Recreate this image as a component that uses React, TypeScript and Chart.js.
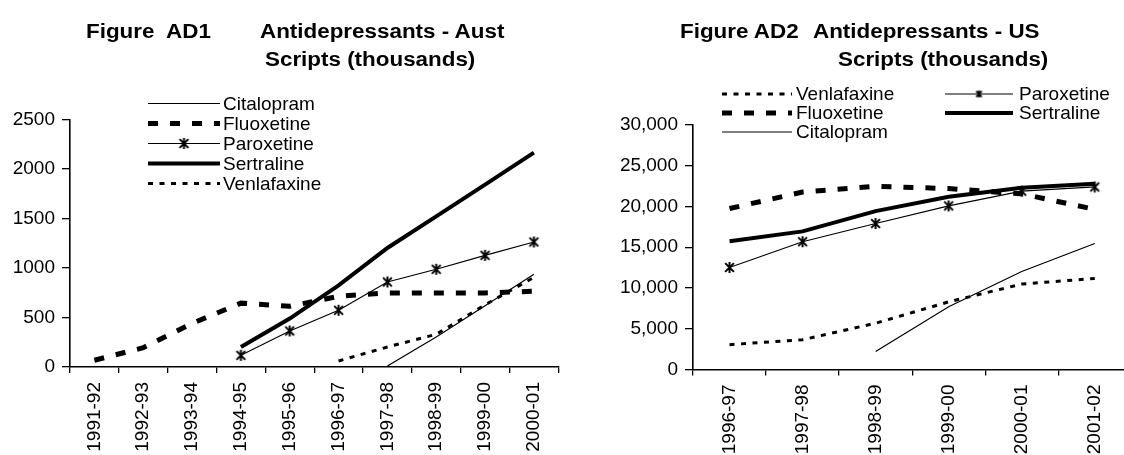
import React, { useEffect, useRef } from 'react';
import { Chart, registerables } from 'chart.js';

Chart.register(...registerables);

// ---------- Data ----------
const ausYears = ['1991-92', '1992-93', '1993-94', '1994-95', '1995-96', '1996-97', '1997-98', '1998-99', '1999-00', '2000-01'];
const ausCitalopram = [null, null, null, null, null, null, 10, 303, 618, 936];
const ausFluoxetine = [68, 195, 440, 645, 613, 714, 748, 748, 748, 765];
const ausParoxetine = [null, null, null, 118, 364, 573, 859, 987, 1128, 1263];
const ausSertraline = [null, null, null, 202, 489, 825, 1202, 1522, 1842, 2165];
const ausVenlafaxine = [null, null, null, null, null, 61, 202, 330, 628, 905];
const ausYTicks = [0, 500, 1000, 1500, 2000, 2500];

const usYears = ['1996-97', '1997-98', '1998-99', '1999-00', '2000-01', '2001-02'];
const usVenlafaxine = [3050, 3650, 5680, 8300, 10480, 11170];
const usFluoxetine = [19750, 21780, 22480, 22200, 21550, 19650];
const usCitalopram = [null, null, 2200, 7700, 12030, 15460];
const usParoxetine = [12520, 15680, 17910, 20070, 21880, 22400];
const usSertraline = [15730, 16950, 19430, 21200, 22310, 22800];
const usYTicks = [0, 5000, 10000, 15000, 20000, 25000, 30000];

const FONT = '"Liberation Sans", Arial, Helvetica, sans-serif';

function makeAsterisk(size: number, lw: number) {
  const c = document.createElement('canvas');
  c.width = size;
  c.height = size;
  const ctx = c.getContext('2d')!;
  ctx.strokeStyle = '#000';
  ctx.lineWidth = lw;
  const m = size / 2;
  const r = size / 2 - 1;
  const d = r * 0.8;
  ctx.beginPath();
  ctx.moveTo(m - d, m - d); ctx.lineTo(m + d, m + d);
  ctx.moveTo(m + d, m - d); ctx.lineTo(m - d, m + d);
  ctx.moveTo(m, m - r); ctx.lineTo(m, m + r);
  ctx.stroke();
  return c;
}

const legendPlugin = {
  id: 'customLegend',
  afterDraw(chart: any, _args: any, opts: any) {
    const ctx = chart.ctx;
    for (const it of opts.items || []) {
      const ds = chart.data.datasets[it.index];
      ctx.save();
      ctx.strokeStyle = '#000';
      ctx.lineWidth = ds.borderWidth;
      ctx.setLineDash(ds.borderDash || []);
      ctx.lineCap = 'butt';
      ctx.beginPath();
      ctx.moveTo(it.x0, it.y);
      ctx.lineTo(it.x1, it.y);
      ctx.stroke();
      ctx.setLineDash([]);
      if (it.marker) {
        const img = it.marker;
        ctx.drawImage(img, (it.x0 + it.x1) / 2 - img.width / 2, it.y - img.height / 2);
      }
      ctx.fillStyle = '#000';
      ctx.font = `${opts.fontSize}px ${FONT}`;
      ctx.textBaseline = 'middle';
      ctx.fillText(ds.label, it.textX, it.y + 1);
      ctx.restore();
    }
  },
};

function lineDs(label: string, data: (number | null)[], kind: string, marker?: any) {
  const base: any = {
    label,
    data,
    borderColor: '#000',
    backgroundColor: '#000',
    fill: false,
    tension: 0,
    pointRadius: 0,
    pointHoverRadius: 0,
    spanGaps: false,
  };
  if (kind === 'thin') { base.borderWidth = 1.2; }
  if (kind === 'dash') { base.borderWidth = 5; base.borderDash = [10, 12]; }
  if (kind === 'dot') { base.borderWidth = 3; base.borderDash = [5, 6.5]; }
  if (kind === 'thick') { base.borderWidth = 4; }
  if (kind === 'star') {
    base.borderWidth = 1.2;
    base.pointStyle = marker;
    base.pointRadius = 6;
    base.pointHoverRadius = 6;
  }
  return base;
}

function scales(labels: string[], yMax: number, step: number, yWidth: number, xHeight: number, fmt: (v: number) => string) {
  return {
    x: {
      type: 'category',
      labels,
      offset: true,
      grid: { display: true, drawOnChartArea: false, drawTicks: true, tickLength: 6, color: '#000', lineWidth: 1.3, offset: true },
      border: { display: true, color: '#000', width: 1.6 },
      ticks: { autoSkip: false, maxRotation: 90, minRotation: 90, color: '#000', font: { family: FONT, size: 19 }, padding: 9 },
      afterFit: (s: any) => { s.height = xHeight; },
    },
    y: {
      min: 0,
      max: yMax,
      grid: { display: true, drawOnChartArea: false, drawTicks: true, tickLength: 8, color: '#000', lineWidth: 1.3 },
      border: { display: true, color: '#000', width: 1.6 },
      ticks: { stepSize: step, color: '#000', font: { family: FONT, size: 19 }, padding: 7, callback: (v: any) => fmt(Number(v)) },
      afterFit: (s: any) => { s.width = yWidth; },
    },
  };
}

function ChartCanvas({ make, left, width, height }: { make: () => any; left: number; width: number; height: number }) {
  const ref = useRef<HTMLCanvasElement | null>(null);
  useEffect(() => {
    const chart = new Chart(ref.current!, make());
    return () => chart.destroy();
  }, []);
  return (
    <div style={{ position: 'absolute', left, top: 0, width, height }}>
      <canvas ref={ref} width={width} height={height} style={{ width, height, display: 'block' }} />
    </div>
  );
}

const CW = 580;
const CH = 520;

function makeAus() {
  const star = makeAsterisk(13, 2);
  const datasets = [
    lineDs('Citalopram', ausCitalopram, 'thin'),
    lineDs('Fluoxetine', ausFluoxetine, 'dash'),
    lineDs('Paroxetine', ausParoxetine, 'star', star),
    lineDs('Sertraline', ausSertraline, 'thick'),
    lineDs('Venlafaxine', ausVenlafaxine, 'dot'),
  ];
  const rows = [103.5, 123.5, 143.5, 163.5, 183.5];
  return {
    type: 'line',
    data: { labels: ausYears, datasets },
    plugins: [legendPlugin],
    options: {
      responsive: false,
      animation: false,
      devicePixelRatio: 1,
      events: [],
      layout: { padding: { top: 119.5, left: 0, right: CW - 558.3, bottom: 0 } },
      scales: scales(ausYears, ausYTicks[ausYTicks.length - 1], ausYTicks[1] - ausYTicks[0], 70, CH - 367, (v) => String(v)),
      plugins: {
        legend: { display: false },
        tooltip: { enabled: false },
        customLegend: {
          fontSize: 19,
          items: datasets.map((_d, i) => ({ index: i, x0: 148, x1: 220, textX: 223, y: rows[i], marker: i === 2 ? star : null })),
        },
      },
    },
  };
}

function makeUS() {
  const star = makeAsterisk(13, 2);
  const smallStar = makeAsterisk(9, 1.8);
  const datasets = [
    lineDs('Venlafaxine', usVenlafaxine, 'dot'),
    lineDs('Fluoxetine', usFluoxetine, 'dash'),
    lineDs('Citalopram', usCitalopram, 'thin'),
    lineDs('Paroxetine', usParoxetine, 'star', star),
    lineDs('Sertraline', usSertraline, 'thick'),
  ];
  const off = 580;
  const items = [
    { index: 0, x0: 722 - off, x1: 792 - off, textX: 796 - off, y: 94 },
    { index: 1, x0: 722 - off, x1: 792 - off, textX: 796 - off, y: 113 },
    { index: 2, x0: 722 - off, x1: 792 - off, textX: 796 - off, y: 132 },
    { index: 3, x0: 945 - off, x1: 1013 - off, textX: 1019 - off, y: 94, marker: smallStar },
    { index: 4, x0: 945 - off, x1: 1013 - off, textX: 1019 - off, y: 113 },
  ];
  return {
    type: 'line',
    data: { labels: usYears, datasets },
    plugins: [legendPlugin],
    options: {
      responsive: false,
      animation: false,
      devicePixelRatio: 1,
      events: [],
      layout: { padding: { top: 125, left: 0, right: CW - (1131.3 - off), bottom: 0 } },
      scales: scales(usYears, usYTicks[usYTicks.length - 1], usYTicks[1] - usYTicks[0], 693 - off, CH - 369.5, (v) => v.toLocaleString('en-US')),
      plugins: {
        legend: { display: false },
        tooltip: { enabled: false },
        customLegend: { fontSize: 19, items },
      },
    },
  };
}

const titleStyle: React.CSSProperties = {
  position: 'absolute',
  fontFamily: FONT,
  fontWeight: 'bold',
  fontSize: 20,
  lineHeight: '20px',
  whiteSpace: 'pre',
  color: '#000',
  transform: 'scaleX(1.12)',
  transformOrigin: 'left top',
};

function T({ x, baseline, text }: { x: number; baseline: number; text: string }) {
  return <div style={{ ...titleStyle, left: x, top: baseline - 17 }}>{text}</div>;
}

export default function App() {
  return (
    <div style={{ position: 'absolute', left: 0, top: 0, width: 1124, height: 455, overflow: 'hidden', background: '#fff' }}>
      <ChartCanvas make={makeAus} left={0} width={CW} height={CH} />
      <ChartCanvas make={makeUS} left={580} width={CW} height={CH} />
      <T x={86} baseline={38} text="Figure  AD1" />
      <T x={260} baseline={38} text="Antidepressants - Aust" />
      <T x={265} baseline={66} text="Scripts (thousands)" />
      <T x={680} baseline={38} text="Figure AD2" />
      <T x={813} baseline={38} text="Antidepressants - US" />
      <T x={838} baseline={66} text="Scripts (thousands)" />
    </div>
  );
}
